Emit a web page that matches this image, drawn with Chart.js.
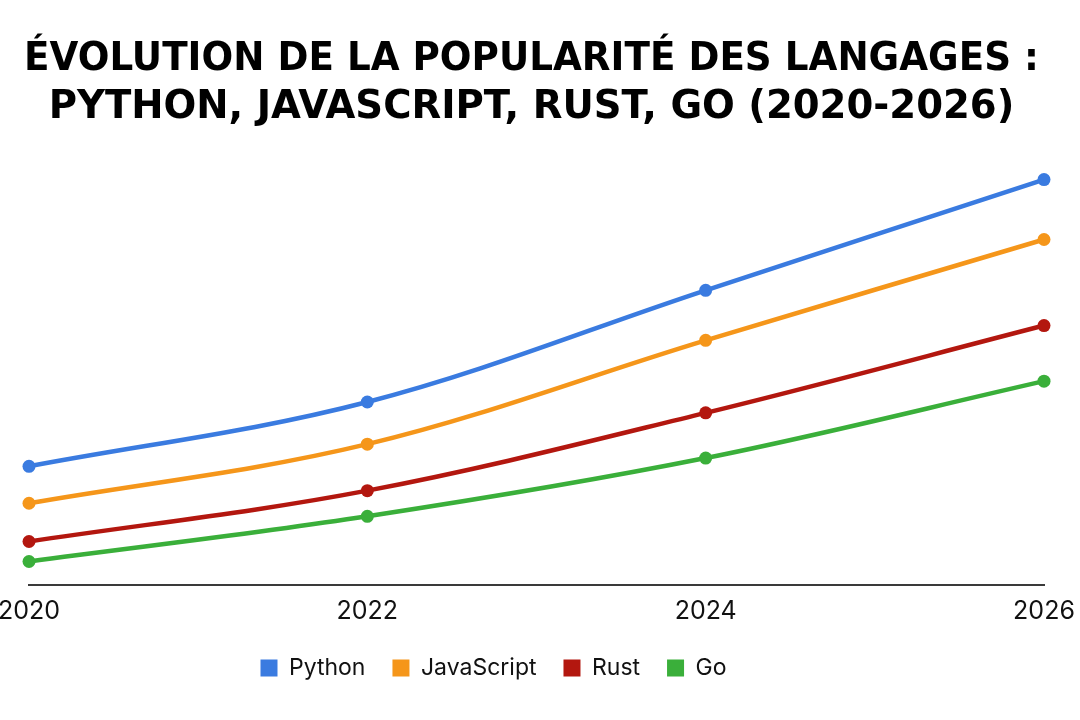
<!DOCTYPE html>
<html>
<head>
<meta charset="utf-8">
<script src="https://cdn.jsdelivr.net/npm/chart.js@4/dist/chart.umd.min.js"></script>
<style>
  html, body { margin: 0; padding: 0; background: #ffffff; }
  #wrap { width: 1080px; height: 720px; }
</style>
</head>
<body>
<div id="wrap"><canvas id="c" width="1080" height="720"></canvas></div>
<script>
const years = ['2020', '2022', '2024', '2026'];
const python = [27.2, 42.0, 67.7, 93.2];
const javascript = [18.7, 32.3, 56.2, 79.4];
const rust = [9.9, 21.6, 39.5, 59.6];
const go = [5.3, 15.7, 29.1, 46.8];
const titleLines = ['ÉVOLUTION DE LA POPULARITÉ DES LANGAGES :', 'PYTHON, JAVASCRIPT, RUST, GO (2020-2026)'];

const colors = { python: '#3a7be0', javascript: '#f5961a', rust: '#b3170f', go: '#3aaf3a' };

function ds(label, data, color) {
  return {
    label, data,
    borderColor: color, backgroundColor: color,
    pointBackgroundColor: color, pointBorderColor: color,
    borderWidth: 4.5, pointRadius: 6.5, pointBorderWidth: 0, pointHoverRadius: 6.5,
    tension: 0.35, clip: false, fill: false
  };
}

const boxShift = {
  id: 'boxShift',
  afterLayout(chart) {
    const lg = chart.legend;
    if (lg) {
      lg.left -= 43; lg.right -= 43;
      lg.top -= 9; lg.bottom -= 9;
    }
    const tt = chart.titleBlock;
    if (tt) { tt.left -= 5; tt.right -= 5; }
  }
};

new Chart(document.getElementById('c'), {
  type: 'line',
  data: {
    labels: years,
    datasets: [
      ds('Python', python, colors.python),
      ds('JavaScript', javascript, colors.javascript),
      ds('Rust', rust, colors.rust),
      ds('Go', go, colors.go)
    ]
  },
  options: {
    responsive: false,
    animation: false,
    layout: { padding: { top: 0, left: 29, right: 36, bottom: 21.5 } },
    scales: {
      x: {
        grid: { display: false, drawTicks: false },
        border: { display: true, color: '#3a3a3a', width: 2 },
        ticks: { color: '#111', font: { family: 'Inter', size: 25 }, padding: 12, maxRotation: 0 },
        afterFit(scale) { scale.paddingLeft = 0; scale.paddingRight = 0; }
      },
      y: { display: false, min: 0, max: 100 }
    },
    plugins: {
      title: {
        display: true, text: titleLines, color: '#000',
        font: { family: 'DejaVu Sans', size: 38.6, weight: 'bold', lineHeight: '48px' },
        padding: { top: 36, bottom: 18 }
      },
      legend: {
        display: true, position: 'bottom',
        labels: {
          color: '#111', font: { family: 'Inter', size: 23 },
          boxWidth: 17, boxHeight: 17, padding: 27,
          generateLabels(chart) {
            return Chart.defaults.plugins.legend.labels.generateLabels(chart).map(it => {
              it.lineWidth = 0;
              return it;
            });
          }
        }
      },
      tooltip: { enabled: false }
    }
  },
  plugins: [boxShift]
});
</script>
</body>
</html>
